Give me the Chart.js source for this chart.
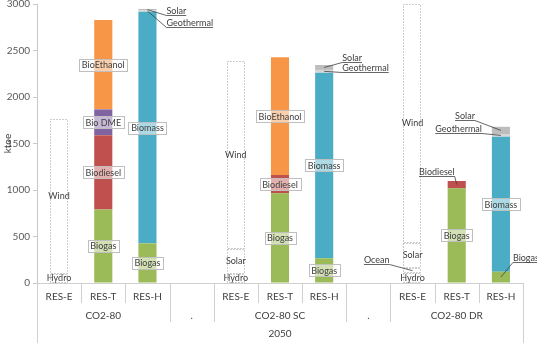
<!DOCTYPE html>
<html>
<head>
<meta charset="utf-8">
<script src="https://cdn.jsdelivr.net/npm/chart.js@4.4.0/dist/chart.umd.min.js"></script>
<style>
  html, body { margin: 0; padding: 0; background: #fff; }
  #wrap { width: 537px; height: 343px; }
</style>
</head>
<body>
<div id="wrap"><canvas id="mixChart" width="537" height="343"></canvas></div>
<script>
const categories = ["RES-E", "RES-T", "RES-H", "", "RES-E", "RES-T", "RES-H", "", "RES-E", "RES-T", "RES-H"];
const scenarioOf = ["CO2-80", "CO2-80", "CO2-80", ".", "CO2-80 SC", "CO2-80 SC", "CO2-80 SC", ".", "CO2-80 DR", "CO2-80 DR", "CO2-80 DR"];
const yearLabel = "2050";
const yTicks = [0, 500, 1000, 1500, 2000, 2500, 3000];

// ktoe, one value per category (null where the source is not used)
const hydro      = [100, null, null, null, 100, null, null, null, 105, null, null];
const ocean      = [null, null, null, null, null, null, null, null, 55, null, null];
const solarElec  = [null, null, null, null, 270, null, null, null, 270, null, null];
const wind       = [1660, null, null, null, 2015, null, null, null, 2570, null, null];
const biogas     = [null, 790, 427, null, null, 964, 266, null, null, 1018, 122];
const biodiesel  = [null, 800, null, null, null, 197, null, null, null, 79, null];
const bioDME     = [null, 277, null, null, null, null, null, null, null, null, null];
const bioEthanol = [null, 960, null, null, null, 1266, null, null, null, null, null];
const biomass    = [null, null, 2490, null, null, null, 1995, null, null, null, 1450];
const geothermal = [null, null, 15, null, null, null, 30, null, null, null, 30];
const solarHeat  = [null, null, 15, null, null, null, 53, null, null, null, 78];

// labels that sit outside their bar, pulled out with a leader line [dx, dy]
const callouts = {
  "solarHeat:2": [19, 5],
  "geothermal:2": [19, 16],
  "solarHeat:6": [18, -5],
  "geothermal:6": [18, 1],
  "solarHeat:10": [-26, -10],
  "geothermal:10": [-19, -2],
  "biodiesel:9": [-2, -9],
  "biogas:10": [12, -15],
  "ocean:8": [-23, -7]
};

const TEXT = "#404040";
const LINE = "#D0D0D0";
const FONT = "Lato, 'Open Sans', sans-serif";

const series = [
  { id: "hydro", label: "Hydro", data: hydro, dotted: true },
  { id: "ocean", label: "Ocean", data: ocean, dotted: true },
  { id: "solarElec", label: "Solar", data: solarElec, dotted: true },
  { id: "wind", label: "Wind", data: wind, dotted: true },
  { id: "biogas", label: "Biogas", data: biogas, color: "#9BBB59" },
  { id: "biodiesel", label: "Biodiesel", data: biodiesel, color: "#C0504D" },
  { id: "bioDME", label: "Bio DME", data: bioDME, color: "#8064A2" },
  { id: "bioEthanol", label: "BioEthanol", data: bioEthanol, color: "#F79646" },
  { id: "biomass", label: "Biomass", data: biomass, color: "#4BACC6" },
  { id: "geothermal", label: "Geothermal", data: geothermal, color: "#D6D6D6" },
  { id: "solarHeat", label: "Solar", data: solarHeat, color: "#BDBDBD" }
];

const extras = {
  id: "extras",
  afterDatasetsDraw(chart) {
    const ctx = chart.ctx;
    ctx.save();
    // dotted outlines for the electricity sources
    chart.data.datasets.forEach((ds, di) => {
      if (!ds.dotted) return;
      chart.getDatasetMeta(di).data.forEach((bar, i) => {
        if (ds.data[i] == null) return;
        const w = Math.round(bar.width);
        const x = Math.round(bar.x - bar.width / 2) + 0.5;
        const y = Math.round(bar.y) + 0.5;
        const h = Math.round(bar.base) - Math.round(bar.y) - 1;
        ctx.strokeStyle = "#9A9A9A";
        ctx.lineWidth = 1;
        ctx.setLineDash([1, 2]);
        ctx.strokeRect(x, y, w - 1, h);
      });
    });
    ctx.setLineDash([]);

    // segment labels
    ctx.font = "9px " + FONT;
    chart.data.datasets.forEach((ds, di) => {
      chart.getDatasetMeta(di).data.forEach((bar, i) => {
        if (ds.data[i] == null) return;
        const cx = bar.x;
        const cy = (bar.y + bar.base) / 2;
        const tw = ctx.measureText(ds.label).width;
        const co = callouts[ds.id + ":" + i];
        if (co) {
          const tx = cx + co[0], ty = Math.round(cy + co[1]) + 0.5;
          const x0 = co[0] < 0 ? tx - tw : tx;
          ctx.strokeStyle = TEXT;
          ctx.lineWidth = 0.8;
          ctx.beginPath();
          ctx.moveTo(cx, cy);
          ctx.lineTo(tx, ty);
          ctx.lineTo(co[0] < 0 ? x0 : x0 + tw, ty);
          ctx.stroke();
          ctx.fillStyle = TEXT;
          ctx.textAlign = "left";
          ctx.textBaseline = "alphabetic";
          ctx.fillText(ds.label, x0, ty - 2);
        } else if (ds.dotted) {
          ctx.fillStyle = TEXT;
          ctx.textAlign = "center";
          ctx.textBaseline = "middle";
          ctx.fillText(ds.label, cx, cy);
        } else {
          const bw = Math.round(tw + 5), bh = 12;
          const bx = Math.round(cx - bw / 2) + 0.5, by = Math.round(cy - bh / 2) + 0.5;
          ctx.fillStyle = "rgba(255,255,255,0.55)";
          ctx.fillRect(bx, by, bw, bh);
          ctx.strokeStyle = "#BFBFBF";
          ctx.lineWidth = 1;
          ctx.strokeRect(bx, by, bw, bh);
          ctx.fillStyle = TEXT;
          ctx.textAlign = "center";
          ctx.textBaseline = "middle";
          ctx.fillText(ds.label, cx, cy + 0.5);
        }
      });
    });
    ctx.restore();
  },
  afterDraw(chart) {
    const ctx = chart.ctx;
    const xs = chart.scales.x;
    const area = chart.chartArea;
    const n = categories.length;
    const cw = (xs.right - xs.left) / n;
    const b = area.bottom;
    ctx.save();
    ctx.strokeStyle = LINE;
    ctx.lineWidth = 1;
    ctx.beginPath();
    ctx.moveTo(xs.left, b + 0.5);
    ctx.lineTo(xs.right, b + 0.5);
    for (let i = 0; i <= n; i++) {
      const x = Math.round(xs.left + i * cw) + 0.5;
      let end = b + 20;
      if (i === 0 || i === n) end = chart.height;
      else if (scenarioOf[i] !== scenarioOf[i - 1]) end = b + 39;
      ctx.moveTo(x, b);
      ctx.lineTo(x, end);
    }
    ctx.stroke();

    ctx.fillStyle = TEXT;
    ctx.font = "10px " + FONT;
    ctx.textAlign = "center";
    ctx.textBaseline = "middle";
    categories.forEach((c, i) => {
      if (c) ctx.fillText(c, xs.getPixelForValue(i), b + 14);
    });
    let start = 0;
    for (let i = 1; i <= n; i++) {
      if (i === n || scenarioOf[i] !== scenarioOf[start]) {
        const x = (xs.getPixelForValue(start) + xs.getPixelForValue(i - 1)) / 2;
        ctx.fillText(scenarioOf[start], x, b + 33);
        start = i;
      }
    }
    ctx.fillText(yearLabel, (xs.left + xs.right) / 2, b + 51);

    // axis title
    ctx.translate(8, (area.top + area.bottom) / 2);
    ctx.rotate(-Math.PI / 2);
    ctx.fillText("ktoe", 0, 0);
    ctx.restore();
  }
};

new Chart(document.getElementById("mixChart"), {
  type: "bar",
  data: {
    labels: categories,
    datasets: series.map(s => ({
      id: s.id,
      label: s.label,
      data: s.data,
      dotted: !!s.dotted,
      backgroundColor: s.dotted ? "rgba(255,255,255,0)" : s.color,
      borderWidth: 0,
      barPercentage: 0.41,
      categoryPercentage: 1
    }))
  },
  options: {
    responsive: false,
    animation: false,
    devicePixelRatio: 1,
    layout: { padding: { left: 0, right: 14, top: 0, bottom: 0 } },
    plugins: { legend: { display: false }, tooltip: { enabled: false } },
    scales: {
      x: {
        stacked: true,
        grid: { display: false },
        border: { display: false },
        ticks: { display: false },
        afterFit(scale) { scale.height = 60; }
      },
      y: {
        stacked: true,
        min: 0,
        max: 3000,
        afterBuildTicks(scale) { scale.ticks = yTicks.map(v => ({ value: v })); },
        grid: { drawOnChartArea: false, drawTicks: true, tickLength: 4, color: "#C8C8C8" },
        border: { color: "#C8C8C8" },
        ticks: {
          color: "#595959",
          font: { size: 10, family: FONT },
          padding: 3,
          callback: v => String(v)
        },
        afterFit(scale) { scale.width = 37; scale.paddingTop = 4; }
      }
    }
  },
  plugins: [extras]
});
</script>
</body>
</html>
